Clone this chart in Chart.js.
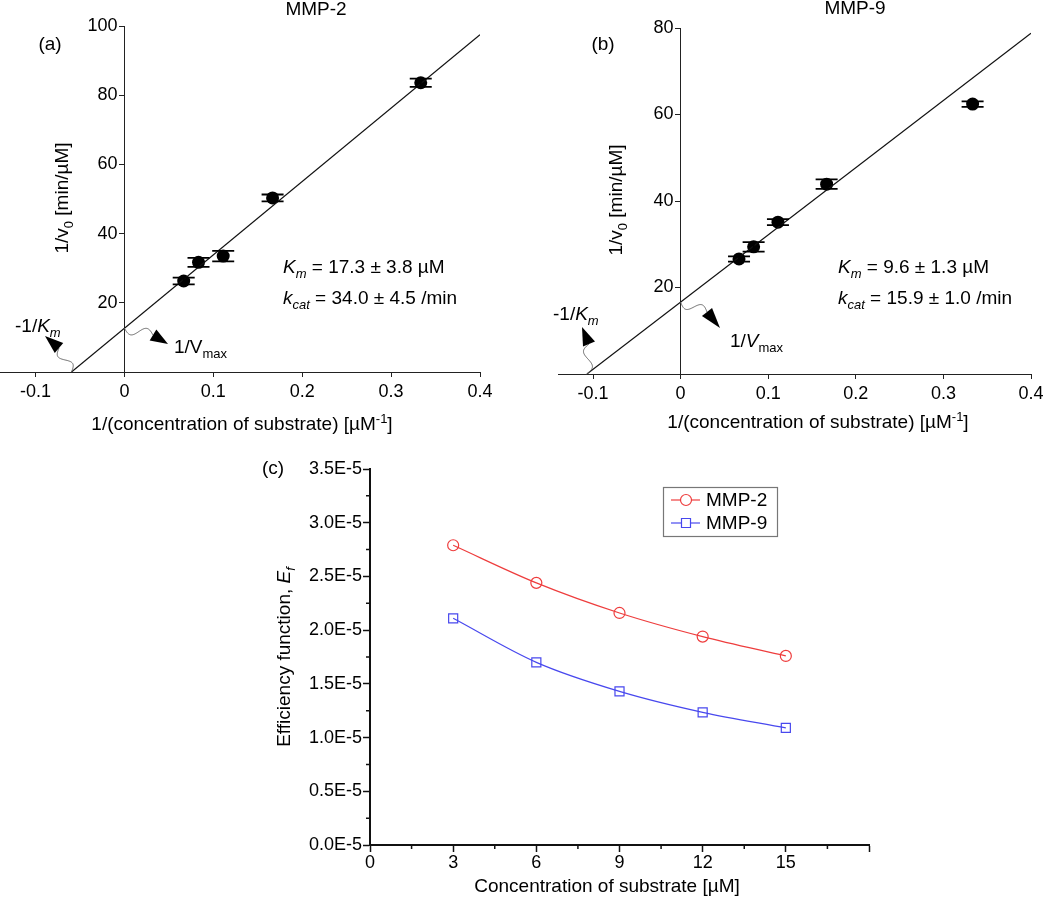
<!DOCTYPE html>
<html><head><meta charset="utf-8"><title>MMP-2 / MMP-9 kinetics</title>
<script src="https://cdn.jsdelivr.net/npm/chart.js@4.4.1/dist/chart.umd.min.js"></script>
<style>
html,body{margin:0;padding:0;background:#fff}
#wrap{position:relative;width:1050px;height:897px;overflow:hidden;background:#fff}
canvas{position:absolute;display:block}
</style></head><body>
<div id="wrap">
<canvas id="ca" width="530" height="440" style="left:-10px;top:0"></canvas>
<canvas id="cb" width="530" height="440" style="left:520px;top:0"></canvas>
<canvas id="cc" width="640" height="457" style="left:260px;top:440px"></canvas>
</div>
<script>
// ---------------- data ----------------
const invConc = [1/15, 1/12, 1/9, 1/6, 1/3];            // 1/[S] (µM^-1)
const invRateMMP2 = [26.3, 31.7, 33.5, 50.3, 83.6];     // 1/v0 (min/µM)
const errMMP2 = [1.0, 1.3, 1.5, 1.0, 1.2];
const fitMMP2X = [-0.0596, 0.4];
const fitMMP2Y = [0, 97.5];
const invRateMMP9 = [26.6, 29.4, 35.1, 43.9, 62.4];
const errMMP9 = [0.6, 1.1, 0.7, 1.1, 0.65];
const fitMMP9X = [-0.107, 0.4];
const fitMMP9Y = [0, 78.8];
const lbXTicks = [-0.1, 0, 0.1, 0.2, 0.3, 0.4];
const mmp2YTicks = [20, 40, 60, 80, 100];
const mmp9YTicks = [20, 40, 60, 80];
const kmMMP2 = '17.3 ± 3.8', kcatMMP2 = '34.0 ± 4.5';
const kmMMP9 = '9.6 ± 1.3', kcatMMP9 = '15.9 ± 1.0';

const substrateConc = [3, 6, 9, 12, 15];                // µM
const effMMP2 = [2.79e-5, 2.44e-5, 2.16e-5, 1.94e-5, 1.76e-5];
const effMMP9 = [2.11e-5, 1.70e-5, 1.43e-5, 1.235e-5, 1.09e-5];
const concXTicks = [0, 3, 6, 9, 12, 15, 18];
const effYTicks = [0, 0.5e-5, 1.0e-5, 1.5e-5, 2.0e-5, 2.5e-5, 3.0e-5, 3.5e-5];

// ---------------- helpers ----------------
const FONT = "'Liberation Sans', Arial, Helvetica, sans-serif";
Chart.defaults.font.family = FONT;
Chart.defaults.color = '#000';

function fontFor(style, size) {
  const small = style.indexOf('sub') >= 0 || style.indexOf('sup') >= 0;
  const it = style.charAt(0) === 'i';
  const s = small ? Math.round(size * 0.68) : size;
  return (it ? 'italic ' : '') + s + 'px ' + FONT;
}
function drawRuns(ctx, runs, x, y, align, size) {
  let total = 0;
  const w = runs.map(([t, s]) => { ctx.font = fontFor(s, size); const m = ctx.measureText(t).width; total += m; return m; });
  let cx = align === 'center' ? x - total / 2 : (align === 'right' ? x - total : x);
  ctx.textAlign = 'left'; ctx.textBaseline = 'middle'; ctx.fillStyle = '#000';
  runs.forEach(([t, s], i) => {
    ctx.font = fontFor(s, size);
    let dy = 0;
    if (s.indexOf('sub') >= 0) dy = size * 0.32;
    if (s.indexOf('sup') >= 0) dy = -size * 0.3;
    ctx.fillText(t, cx, y + dy);
    cx += w[i];
  });
}
function drawRunsRot(ctx, runs, x, y, size) {
  ctx.save(); ctx.translate(x, y); ctx.rotate(-Math.PI / 2);
  drawRuns(ctx, runs, 0, 0, 'center', size); ctx.restore();
}
function squiggleArrow(ctx, s, b, tip, amp) {
  ctx.save();
  ctx.strokeStyle = '#666'; ctx.lineWidth = 1;
  const dx = b[0] - s[0], dy = b[1] - s[1], L = Math.hypot(dx, dy) || 1, nx = -dy / L, ny = dx / L;
  ctx.beginPath();
  for (let i = 0; i <= 48; i++) {
    const t = i / 48, o = amp * Math.sin(2 * Math.PI * t);
    const px = s[0] + dx * t + nx * o, py = s[1] + dy * t + ny * o;
    if (i) ctx.lineTo(px, py); else ctx.moveTo(px, py);
  }
  ctx.stroke();
  const hx = tip[0] - b[0], hy = tip[1] - b[1], HL = Math.hypot(hx, hy) || 1, px = -hy / HL, py = hx / HL, hw = 6.5;
  ctx.fillStyle = '#000';
  ctx.beginPath(); ctx.moveTo(tip[0], tip[1]);
  ctx.lineTo(b[0] + px * hw, b[1] + py * hw); ctx.lineTo(b[0] - px * hw, b[1] - py * hw);
  ctx.closePath(); ctx.fill();
  ctx.restore();
}

// ---------------- Lineweaver-Burk panels ----------------
// deco positions are given in page pixels; ox is the canvas's left offset on the page
function makeLB(id, ox, yVals, errs, fitX, fitY, yTicks, yMax, pad, axisH, deco) {
  const P = (p) => [p[0] - ox, p[1]];
  const decoPlugin = {
    id: 'lbDeco',
    afterDatasetsDraw(chart) {
      const ctx = chart.ctx, ys = chart.scales.y, meta = chart.getDatasetMeta(1);
      ctx.save(); ctx.strokeStyle = '#000'; ctx.lineWidth = 1.8;
      meta.data.forEach((pt, i) => {
        const yt = ys.getPixelForValue(yVals[i] + errs[i]), yb = ys.getPixelForValue(yVals[i] - errs[i]);
        ctx.beginPath();
        ctx.moveTo(pt.x, yt); ctx.lineTo(pt.x, yb);
        ctx.moveTo(pt.x - 11, yt); ctx.lineTo(pt.x + 11, yt);
        ctx.moveTo(pt.x - 11, yb); ctx.lineTo(pt.x + 11, yb);
        ctx.stroke();
      });
      ctx.restore();
    },
    afterDraw(chart) {
      const ctx = chart.ctx, xs = chart.scales.x, ys = chart.scales.y;
      ctx.save();
      // y tick labels (left of the axis that crosses at x = 0)
      const ax = xs.getPixelForValue(0);
      ctx.font = '18px ' + FONT; ctx.fillStyle = '#000'; ctx.textAlign = 'right'; ctx.textBaseline = 'middle';
      yTicks.forEach(v => ctx.fillText(String(v), ax - 7, ys.getPixelForValue(v)));
      ctx.font = '19px ' + FONT; ctx.textAlign = 'center';
      let p = P(deco.title); ctx.fillText(deco.titleText, p[0], p[1]);
      p = P(deco.tag); ctx.fillText(deco.tagText, p[0], p[1]);
      p = P(deco.yTitle); drawRunsRot(ctx, [['1/v', ''], ['0', 'sub'], [' [min/µM]', '']], p[0], p[1], 19);
      p = P(deco.xTitle); drawRuns(ctx, [['1/(concentration of substrate) [µM', ''], ['-1', 'sup'], [']', '']], p[0], p[1], 'center', 19);
      p = P(deco.kmPos);
      drawRuns(ctx, [['K', 'i'], ['m', 'isub'], [' = ' + deco.km + ' µM', '']], p[0], p[1], 'left', 19);
      drawRuns(ctx, [['k', 'i'], ['cat', 'isub'], [' = ' + deco.kcat + ' /min', '']], p[0], p[1] + 31, 'left', 19);
      // -1/Km arrow from the x-intercept
      const xi = [xs.getPixelForValue(fitX[0]), ys.getPixelForValue(fitY[0])];
      squiggleArrow(ctx, xi, P(deco.kmArrow.base), P(deco.kmArrow.tip), deco.kmArrow.amp);
      p = P(deco.kmLabel); drawRuns(ctx, [['-1/', ''], ['K', 'i'], ['m', 'isub']], p[0], p[1], 'left', 19);
      // 1/Vmax arrow from the y-intercept
      const y0 = fitY[0] + (0 - fitX[0]) * (fitY[1] - fitY[0]) / (fitX[1] - fitX[0]);
      const yi = [xs.getPixelForValue(0), ys.getPixelForValue(y0)];
      squiggleArrow(ctx, yi, P(deco.vArrow.base), P(deco.vArrow.tip), deco.vArrow.amp);
      p = P(deco.vLabel); drawRuns(ctx, [['1/', ''], ['V', deco.vItalic ? 'i' : ''], ['max', 'sub']], p[0], p[1], 'left', 19);
      ctx.restore();
    }
  };
  return new Chart(document.getElementById(id), {
    type: 'scatter',
    data: {
      datasets: [
        { type: 'line', label: 'fit', data: fitX.map((x, i) => ({ x, y: fitY[i] })), borderColor: '#111', borderWidth: 1.2, pointRadius: 0, fill: false, tension: 0 },
        { type: 'scatter', label: 'data', data: invConc.map((x, i) => ({ x, y: yVals[i] })), pointRadius: 6.5, pointBackgroundColor: '#000', pointBorderColor: '#000', pointBorderWidth: 0 }
      ]
    },
    options: {
      responsive: false, animation: false, events: [],
      layout: { padding: pad },
      scales: {
        x: {
          type: 'linear', position: 'bottom', min: -0.14, max: 0.4,
          afterBuildTicks: s => { s.ticks = lbXTicks.map(v => ({ value: v })); },
          afterFit: s => { s.height = axisH; },
          ticks: { font: { size: 18 }, padding: 4, maxRotation: 0, autoSkip: false,
            callback: v => (Math.abs(v) < 1e-9 ? '0' : String(Math.round(v * 10) / 10)) },
          grid: { drawOnChartArea: false, drawTicks: true, tickLength: 5, color: '#222', lineWidth: 1 },
          border: { display: true, color: '#222', width: 1 }
        },
        y: {
          type: 'linear', position: { x: 0 }, min: 0, max: yMax,
          afterBuildTicks: s => { s.ticks = yTicks.map(v => ({ value: v })); },
          ticks: { display: false },
          grid: { drawOnChartArea: false, drawTicks: true, tickLength: 5, color: '#222', lineWidth: 1 },
          border: { display: true, color: '#222', width: 1 }
        }
      },
      plugins: { legend: { display: false }, tooltip: { enabled: false } }
    },
    plugins: [decoPlugin]
  });
}

makeLB('ca', -10, invRateMMP2, errMMP2, fitMMP2X, fitMMP2Y, mmp2YTicks, 100,
  { left: 10, right: 40, top: 26, bottom: 0 }, 68,
  { titleText: 'MMP-2', title: [316, 10], tagText: '(a)', tag: [50, 45], yTitle: [63, 198], xTitle: [242, 425],
    km: kmMMP2, kcat: kcatMMP2, kmPos: [283, 268],
    kmLabel: [15, 327], kmArrow: { base: [59, 348], tip: [45, 336], amp: 5 },
    vLabel: [174, 348], vArrow: { base: [153, 335], tip: [168, 344], amp: 5 }, vItalic: false });

makeLB('cb', 520, invRateMMP9, errMMP9, fitMMP9X, fitMMP9Y, mmp9YTicks, 80,
  { left: 38, right: 19, top: 28, bottom: 0 }, 66,
  { titleText: 'MMP-9', title: [855, 9], tagText: '(b)', tag: [603, 45], yTitle: [617, 200], xTitle: [818, 423],
    km: kmMMP9, kcat: kcatMMP9, kmPos: [838, 268],
    kmLabel: [553, 315], kmArrow: { base: [589, 344], tip: [582, 327], amp: 5 },
    vLabel: [730, 342], vArrow: { base: [707, 312], tip: [720, 328], amp: 5 }, vItalic: true });

// ---------------- Efficiency panel ----------------
const RED = '#ee3d3d', BLUE = '#4848ee';
const decoC = {
  id: 'effDeco',
  afterDraw(chart) {
    const ctx = chart.ctx, xs = chart.scales.x, ys = chart.scales.y, a = chart.chartArea;
    ctx.save();
    // minor ticks
    ctx.strokeStyle = '#111'; ctx.lineWidth = 1.5;
    ctx.beginPath();
    for (let i = 0; i < concXTicks.length - 1; i++) {
      const px = xs.getPixelForValue((concXTicks[i] + concXTicks[i + 1]) / 2);
      ctx.moveTo(px, a.bottom); ctx.lineTo(px, a.bottom + 4);
    }
    for (let i = 0; i < effYTicks.length - 1; i++) {
      const py = ys.getPixelForValue((effYTicks[i] + effYTicks[i + 1]) / 2);
      ctx.moveTo(a.left, py); ctx.lineTo(a.left - 4, py);
    }
    ctx.stroke();
    // texts
    ctx.font = '19px ' + FONT; ctx.fillStyle = '#000'; ctx.textAlign = 'center'; ctx.textBaseline = 'middle';
    ctx.fillText('(c)', 13, 29);
    drawRunsRot(ctx, [['Efficiency function, ', ''], ['E', 'i'], ['f', 'isub']], 25, 217, 19);
    drawRuns(ctx, [['Concentration of substrate [µM]', '']], 347, 447, 'center', 19);
    // legend
    const bx = 403, by = 47, bw = 114, bh = 49;
    ctx.strokeStyle = '#777'; ctx.lineWidth = 1.2; ctx.strokeRect(bx + 0.5, by + 0.5, bw, bh);
    chart.data.datasets.forEach((ds, i) => {
      const ry = by + 13 + i * 23;
      ctx.strokeStyle = ds.borderColor; ctx.lineWidth = 1.2;
      ctx.beginPath(); ctx.moveTo(bx + 8, ry); ctx.lineTo(bx + 37, ry); ctx.stroke();
      ctx.fillStyle = '#fff';
      ctx.beginPath();
      if (ds.pointStyle === 'rect') { ctx.rect(bx + 23 - 4.5, ry - 4.5, 9, 9); }
      else { ctx.arc(bx + 23, ry, 5.5, 0, Math.PI * 2); }
      ctx.fill(); ctx.stroke();
      ctx.fillStyle = '#000'; ctx.font = '19px ' + FONT; ctx.textAlign = 'left'; ctx.textBaseline = 'middle';
      ctx.fillText(ds.label, bx + 43, ry + 1);
    });
    ctx.restore();
  }
};

new Chart(document.getElementById('cc'), {
  type: 'line',
  data: {
    datasets: [
      { label: 'MMP-2', data: substrateConc.map((x, i) => ({ x, y: effMMP2[i] })), borderColor: RED, backgroundColor: 'rgba(255,255,255,0)',
        borderWidth: 1.2, pointStyle: 'circle', pointRadius: 5.5, pointBorderWidth: 1.2, pointBackgroundColor: 'rgba(255,255,255,0)', cubicInterpolationMode: 'monotone', fill: false },
      { label: 'MMP-9', data: substrateConc.map((x, i) => ({ x, y: effMMP9[i] })), borderColor: BLUE, backgroundColor: 'rgba(255,255,255,0)',
        borderWidth: 1.2, pointStyle: 'rect', pointRadius: 6.4, pointBorderWidth: 1.2, pointBackgroundColor: 'rgba(255,255,255,0)', cubicInterpolationMode: 'monotone', fill: false }
    ]
  },
  options: {
    responsive: false, animation: false, events: [],
    layout: { padding: { left: 0, right: 31, top: 29, bottom: 0 } },
    scales: {
      x: {
        type: 'linear', min: 0, max: 18,
        afterBuildTicks: s => { s.ticks = concXTicks.map(v => ({ value: v })); },
        afterFit: s => { s.height = 52; },
        ticks: { font: { size: 18 }, padding: 0, maxRotation: 0, autoSkip: false, callback: v => (v === 18 ? '' : String(v)) },
        grid: { drawOnChartArea: false, drawTicks: true, tickLength: 7, tickWidth: 1.5, color: '#111' },
        border: { display: true, color: '#111', width: 2 }
      },
      y: {
        type: 'linear', min: 0, max: 3.5e-5,
        afterBuildTicks: s => { s.ticks = effYTicks.map(v => ({ value: v })); },
        afterFit: s => { s.width = 110; },
        ticks: { font: { size: 18 }, padding: 1, autoSkip: false, callback: v => (v * 1e5).toFixed(1) + 'E-5' },
        grid: { drawOnChartArea: false, drawTicks: true, tickLength: 7, tickWidth: 1.5, color: '#111' },
        border: { display: true, color: '#111', width: 2 }
      }
    },
    plugins: { legend: { display: false }, tooltip: { enabled: false } }
  },
  plugins: [decoC]
});
</script>
</body></html>
